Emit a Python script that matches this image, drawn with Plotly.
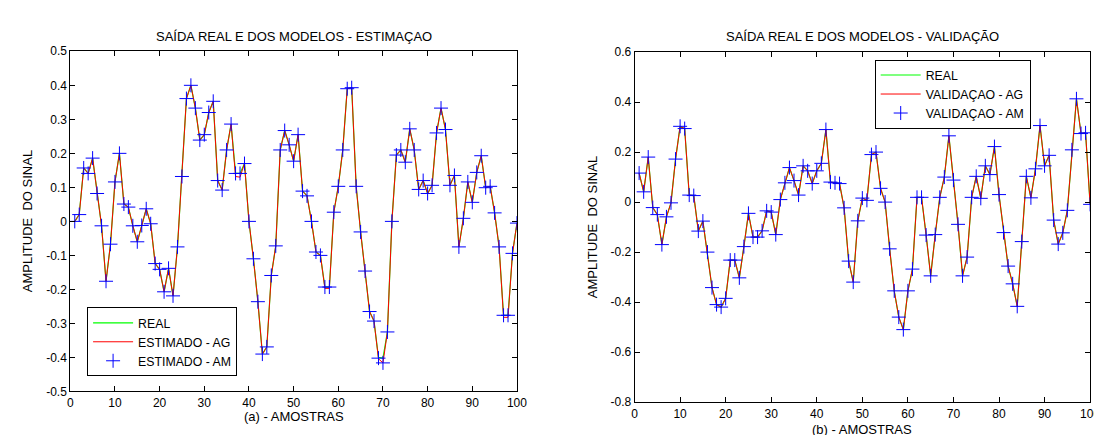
import plotly.graph_objects as go

# ---------------- data ----------------
samples = list(range(1, 101))

# Left panel (estimation)
real_est = [0.000, 0.020, 0.157, 0.141, 0.186, 0.082, -0.013, -0.176, -0.067, 0.116,
            0.200, 0.051, 0.042, -0.013, -0.060, -0.012, 0.037, -0.007, -0.124, -0.141,
            -0.207, -0.138, -0.219, -0.075, 0.132, 0.361, 0.400, 0.333, 0.239, 0.255,
            0.320, 0.353, 0.120, 0.092, 0.210, 0.286, 0.141, 0.141, 0.170, 0.000,
            -0.110, -0.236, -0.390, -0.369, -0.159, -0.072, 0.210, 0.267, 0.225, 0.177,
            0.255, 0.089, 0.075, 0.000, -0.090, -0.100, -0.193, -0.193, 0.027, 0.103,
            0.210, 0.390, 0.393, 0.103, -0.031, -0.146, -0.265, -0.293, -0.400, -0.402,
            -0.325, 0.000, 0.195, 0.210, 0.174, 0.272, 0.210, 0.094, 0.120, 0.082,
            0.106, 0.260, 0.333, 0.270, 0.106, 0.135, -0.075, 0.009, 0.116, 0.056,
            0.144, 0.193, 0.099, 0.103, 0.025, -0.075, -0.276, -0.276, -0.094, -0.005]
ag_est = [0.000, 0.020, 0.157, 0.141, 0.186, 0.082, -0.013, -0.176, -0.067, 0.116,
          0.200, 0.051, 0.042, -0.013, -0.060, -0.012, 0.037, -0.007, -0.124, -0.141,
          -0.207, -0.138, -0.219, -0.075, 0.132, 0.361, 0.400, 0.333, 0.239, 0.255,
          0.320, 0.353, 0.120, 0.092, 0.210, 0.286, 0.132, 0.130, 0.170, 0.000,
          -0.110, -0.236, -0.390, -0.369, -0.159, -0.072, 0.210, 0.267, 0.225, 0.177,
          0.255, 0.089, 0.075, 0.000, -0.090, -0.100, -0.197, -0.197, 0.027, 0.103,
          0.210, 0.390, 0.393, 0.103, -0.031, -0.146, -0.265, -0.293, -0.404, -0.416,
          -0.325, 0.000, 0.195, 0.210, 0.174, 0.272, 0.210, 0.094, 0.120, 0.082,
          0.106, 0.260, 0.333, 0.270, 0.106, 0.135, -0.075, 0.009, 0.116, 0.056,
          0.144, 0.193, 0.099, 0.103, 0.025, -0.075, -0.282, -0.282, -0.094, -0.005]
am_est = [0.000, 0.020, 0.157, 0.141, 0.186, 0.082, -0.013, -0.176, -0.067, 0.116,
          0.200, 0.051, 0.042, -0.013, -0.060, -0.012, 0.037, -0.007, -0.124, -0.141,
          -0.207, -0.138, -0.219, -0.075, 0.132, 0.361, 0.400, 0.333, 0.239, 0.255,
          0.320, 0.353, 0.120, 0.092, 0.210, 0.286, 0.141, 0.141, 0.170, 0.000,
          -0.110, -0.236, -0.390, -0.369, -0.159, -0.072, 0.210, 0.267, 0.225, 0.177,
          0.255, 0.089, 0.075, 0.000, -0.090, -0.100, -0.193, -0.193, 0.027, 0.103,
          0.210, 0.390, 0.393, 0.103, -0.031, -0.146, -0.265, -0.293, -0.402, -0.416,
          -0.325, 0.000, 0.195, 0.210, 0.174, 0.272, 0.210, 0.094, 0.120, 0.082,
          0.106, 0.260, 0.333, 0.270, 0.106, 0.135, -0.075, 0.009, 0.116, 0.056,
          0.144, 0.193, 0.099, 0.103, 0.025, -0.075, -0.276, -0.276, -0.094, -0.005]

# Right panel (validation)
real_val = [0.116, 0.041, 0.180, -0.022, -0.050, -0.170, -0.059, -0.003, 0.172, 0.303,
            0.294, 0.028, 0.026, -0.116, -0.076, -0.200, -0.342, -0.410, -0.420, -0.385,
            -0.232, -0.232, -0.303, -0.178, -0.045, -0.140, -0.140, -0.115, -0.035, -0.040,
            -0.130, 0.010, 0.077, 0.138, 0.086, 0.028, 0.145, 0.125, 0.074, 0.125,
            0.155, 0.290, 0.080, 0.077, 0.074, -0.023, -0.236, -0.320, -0.075, 0.016,
            0.007, 0.190, 0.200, 0.055, 0.000, -0.187, -0.355, -0.460, -0.510, -0.355,
            -0.268, 0.019, 0.019, -0.132, -0.295, -0.130, 0.019, 0.100, 0.265, 0.088,
            -0.089, -0.295, -0.220, 0.019, 0.103, 0.015, 0.145, 0.110, 0.222, 0.030,
            -0.122, -0.256, -0.327, -0.417, -0.158, 0.103, 0.017, 0.133, 0.306, 0.145,
            0.187, -0.072, -0.168, -0.123, -0.033, 0.209, 0.413, 0.274, 0.277, -0.009]
ag_val = [0.116, 0.041, 0.180, -0.022, -0.050, -0.170, -0.059, -0.003, 0.172, 0.303,
          0.294, 0.028, 0.026, -0.116, -0.076, -0.200, -0.342, -0.410, -0.420, -0.385,
          -0.232, -0.232, -0.303, -0.178, -0.045, -0.140, -0.140, -0.115, -0.035, -0.040,
          -0.130, 0.010, 0.077, 0.138, 0.086, 0.028, 0.145, 0.125, 0.074, 0.125,
          0.155, 0.290, 0.080, 0.077, 0.074, -0.023, -0.236, -0.320, -0.075, 0.016,
          0.007, 0.190, 0.200, 0.055, 0.000, -0.187, -0.355, -0.460, -0.510, -0.355,
          -0.268, 0.019, 0.019, -0.132, -0.295, -0.130, 0.019, 0.100, 0.265, 0.088,
          -0.089, -0.295, -0.220, 0.019, 0.103, 0.015, 0.145, 0.110, 0.222, 0.030,
          -0.122, -0.256, -0.327, -0.417, -0.158, 0.103, 0.017, 0.133, 0.306, 0.145,
          0.187, -0.072, -0.168, -0.123, -0.033, 0.209, 0.413, 0.274, 0.277, -0.009]
am_val = [0.116, 0.041, 0.180, -0.022, -0.050, -0.170, -0.059, -0.003, 0.172, 0.303,
          0.294, 0.028, 0.026, -0.116, -0.076, -0.200, -0.342, -0.410, -0.420, -0.385,
          -0.232, -0.232, -0.303, -0.178, -0.045, -0.140, -0.140, -0.115, -0.035, -0.040,
          -0.130, 0.010, 0.077, 0.138, 0.086, 0.028, 0.145, 0.125, 0.074, 0.125,
          0.155, 0.290, 0.080, 0.077, 0.074, -0.023, -0.236, -0.320, -0.075, 0.016,
          0.007, 0.190, 0.200, 0.055, 0.000, -0.187, -0.355, -0.460, -0.510, -0.355,
          -0.268, 0.019, 0.019, -0.132, -0.295, -0.130, 0.019, 0.100, 0.265, 0.088,
          -0.089, -0.295, -0.220, 0.019, 0.103, 0.015, 0.145, 0.110, 0.222, 0.030,
          -0.122, -0.256, -0.327, -0.417, -0.158, 0.103, 0.017, 0.133, 0.306, 0.145,
          0.187, -0.072, -0.168, -0.123, -0.033, 0.209, 0.413, 0.274, 0.277, -0.009]

x_ticks = [0, 10, 20, 30, 40, 50, 60, 70, 80, 90, 100]
y_ticks_est = [-0.5, -0.4, -0.3, -0.2, -0.1, 0, 0.1, 0.2, 0.3, 0.4, 0.5]
y_text_est = ["-0.5", "-0.4", "-0.3", "-0.2", "-0.1", "0", "0.1", "0.2", "0.3", "0.4", "0.5"]
y_ticks_val = [-0.8, -0.6, -0.4, -0.2, 0, 0.2, 0.4, 0.6]
y_text_val = ["-0.8", "-0.6", "-0.4", "-0.2", "0", "0.2", "0.4", "0.6"]

title_est = "SAÍDA REAL E DOS MODELOS - ESTIMAÇAO"
title_val = "SAÍDA REAL E DOS MODELOS - VALIDAÇÃO"
xlabel_est = "(a) - AMOSTRAS"
xlabel_val = "(b) - AMOSTRAS"
ylabel = "AMPLITUDE  DO SINAL"

# ---------------- figure ----------------
W, H = 1102, 435
FONT = "Liberation Sans, Arial, sans-serif"

fig = go.Figure()

GREEN = "#00ff00"
RED = "#ff0000"
BLUE = "#0000ff"

def add_panel(real, ag, am, xa, ya, leg, names):
    fig.add_trace(go.Scatter(x=samples, y=real, mode="lines", name=names[0],
                             line=dict(color=GREEN, width=1.2), xaxis=xa, yaxis=ya, legend=leg))
    fig.add_trace(go.Scatter(x=samples, y=ag, mode="lines", name=names[1],
                             line=dict(color=RED, width=1), xaxis=xa, yaxis=ya, legend=leg))
    fig.add_trace(go.Scatter(x=samples, y=am, mode="markers", name=names[2],
                             marker=dict(symbol="cross-thin", size=10,
                                         line=dict(color=BLUE, width=1), color=BLUE),
                             xaxis=xa, yaxis=ya, legend=leg))

add_panel(real_est, ag_est, am_est, "x", "y", "legend",
          ["REAL", "ESTIMADO - AG", "ESTIMADO - AM"])
add_panel(real_val, ag_val, am_val, "x2", "y2", "legend2",
          ["REAL", "VALIDAÇAO - AG", "VALIDAÇAO - AM"])

axis_common = dict(showline=True, linecolor="black", linewidth=1, mirror="ticks",
                   ticks="inside", ticklen=5, tickcolor="black", showgrid=False,
                   zeroline=False, tickfont=dict(family=FONT, size=12, color="black"))

# pixel positions of the plot boxes
L1, R1, T1, B1 = 60, 512, 37.5, 389
L2, R2, T2, B2 = 631, 1092, 38.3, 400

fig.update_layout(
    width=W, height=H,
    margin=dict(l=0, r=0, t=0, b=0),
    paper_bgcolor="white", plot_bgcolor="white",
    font=dict(family=FONT, size=12, color="black"),
    xaxis=dict(domain=[L1 / W, R1 / W], range=[0, 100], tickvals=x_ticks, anchor="y", **axis_common),
    yaxis=dict(domain=[1 - B1 / H, 1 - T1 / H], range=[-0.5, 0.5], tickvals=y_ticks_est,
               ticktext=y_text_est, anchor="x", **axis_common),
    xaxis2=dict(domain=[L2 / W, R2 / W], range=[0, 100], tickvals=x_ticks, anchor="y2", **axis_common),
    yaxis2=dict(domain=[1 - B2 / H, 1 - T2 / H], range=[-0.8, 0.6], tickvals=y_ticks_val,
                ticktext=y_text_val, anchor="x2", **axis_common),
    legend=dict(x=77 / W, y=1 - 302 / H, xanchor="left", yanchor="top",
                bordercolor="black", borderwidth=1, bgcolor="white",
                font=dict(family=FONT, size=12.3, color="black"), itemwidth=40,
                tracegroupgap=0),
    legend2=dict(x=874 / W, y=1 - 46 / H, xanchor="left", yanchor="top",
                 bordercolor="black", borderwidth=1, bgcolor="white",
                 font=dict(family=FONT, size=12.3, color="black"), itemwidth=40,
                 tracegroupgap=0),
    showlegend=True,
)

def ann(text, xp, yp, angle=0, size=13):
    fig.add_annotation(text=text, x=xp / W, y=1 - yp / H, xref="paper", yref="paper",
                       showarrow=False, textangle=angle, xanchor="center", yanchor="middle",
                       font=dict(family=FONT, size=size, color="black"))

ann(title_est, (L1 + R1) / 2, 22)
ann(title_val, (L2 + R2) / 2, 22)
ann(xlabel_est, (L1 + R1) / 2, 415)
ann(xlabel_val, (L2 + R2) / 2, 428)
ann(ylabel, 17, (T1 + B1) / 2, angle=-90)
ann(ylabel, 588, (T2 + B2) / 2, angle=-90)

fig.write_html("out.html")
